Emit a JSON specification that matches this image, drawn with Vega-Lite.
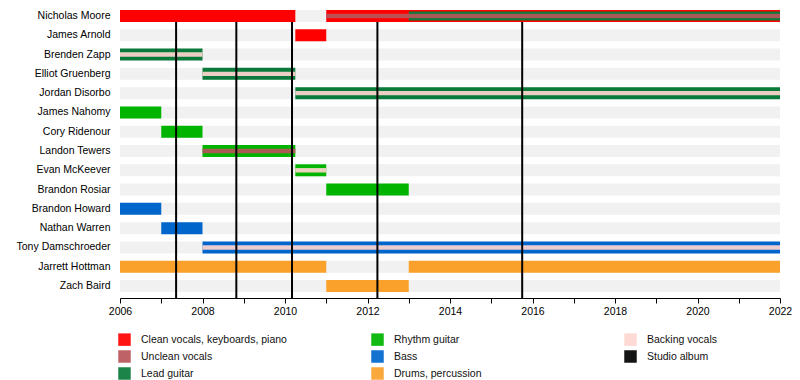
{
  "$schema": "https://vega.github.io/schema/vega-lite/v6.json",
  "width": 660,
  "height": 294,
  "autosize": {"type": "none"},
  "padding": {"left": 120, "top": 4, "right": 20, "bottom": 82},
  "background": "white",
  "config": {
    "view": {"stroke": null},
    "font": "Liberation Sans",
    "axis": {"labelFont": "Liberation Sans", "labelFontSize": 10.5, "labelColor": "#000"},
    "legend": {"labelFont": "Liberation Sans", "labelFontSize": 10.5, "labelColor": "#111"}
  },
  "datasets": {
    "members": [
      {"member": "Nicholas Moore"}, {"member": "James Arnold"}, {"member": "Brenden Zapp"},
      {"member": "Elliot Gruenberg"}, {"member": "Jordan Disorbo"}, {"member": "James Nahomy"},
      {"member": "Cory Ridenour"}, {"member": "Landon Tewers"}, {"member": "Evan McKeever"},
      {"member": "Brandon Rosiar"}, {"member": "Brandon Howard"}, {"member": "Nathan Warren"},
      {"member": "Tony Damschroeder"}, {"member": "Jarrett Hottman"}, {"member": "Zach Baird"}
    ],
    "bars": [
      {"member": "Nicholas Moore", "role": "Clean vocals, keyboards, piano", "part": "main", "start": 2006, "end": 2010.25},
      {"member": "Nicholas Moore", "role": "Clean vocals, keyboards, piano", "part": "main", "start": 2011, "end": 2022},
      {"member": "Nicholas Moore", "role": "Lead guitar", "part": "mid", "start": 2013, "end": 2022},
      {"member": "Nicholas Moore", "role": "Unclean vocals", "part": "stripe", "start": 2011, "end": 2022},
      {"member": "James Arnold", "role": "Clean vocals, keyboards, piano", "part": "main", "start": 2010.25, "end": 2011},
      {"member": "Brenden Zapp", "role": "Lead guitar", "part": "main", "start": 2006, "end": 2008},
      {"member": "Brenden Zapp", "role": "Backing vocals", "part": "stripe", "start": 2006, "end": 2008},
      {"member": "Elliot Gruenberg", "role": "Lead guitar", "part": "main", "start": 2008, "end": 2010.25},
      {"member": "Elliot Gruenberg", "role": "Backing vocals", "part": "stripe", "start": 2008, "end": 2010.25},
      {"member": "Jordan Disorbo", "role": "Lead guitar", "part": "main", "start": 2010.25, "end": 2022},
      {"member": "Jordan Disorbo", "role": "Backing vocals", "part": "stripe", "start": 2010.25, "end": 2022},
      {"member": "James Nahomy", "role": "Rhythm guitar", "part": "main", "start": 2006, "end": 2007},
      {"member": "Cory Ridenour", "role": "Rhythm guitar", "part": "main", "start": 2007, "end": 2008},
      {"member": "Landon Tewers", "role": "Rhythm guitar", "part": "main", "start": 2008, "end": 2010.25},
      {"member": "Landon Tewers", "role": "Unclean vocals", "part": "stripe", "start": 2008, "end": 2010.25},
      {"member": "Evan McKeever", "role": "Rhythm guitar", "part": "main", "start": 2010.25, "end": 2011},
      {"member": "Evan McKeever", "role": "Backing vocals", "part": "stripe", "start": 2010.25, "end": 2011},
      {"member": "Brandon Rosiar", "role": "Rhythm guitar", "part": "main", "start": 2011, "end": 2013},
      {"member": "Brandon Howard", "role": "Bass", "part": "main", "start": 2006, "end": 2007},
      {"member": "Nathan Warren", "role": "Bass", "part": "main", "start": 2007, "end": 2008},
      {"member": "Tony Damschroeder", "role": "Bass", "part": "main", "start": 2008, "end": 2022},
      {"member": "Tony Damschroeder", "role": "Backing vocals", "part": "stripe", "start": 2008, "end": 2022},
      {"member": "Jarrett Hottman", "role": "Drums, percussion", "part": "main", "start": 2006, "end": 2011},
      {"member": "Jarrett Hottman", "role": "Drums, percussion", "part": "main", "start": 2013, "end": 2022},
      {"member": "Zach Baird", "role": "Drums, percussion", "part": "main", "start": 2011, "end": 2013}
    ],
    "albums": [
      {"date": 2007.36, "role": "Studio album"},
      {"date": 2008.82, "role": "Studio album"},
      {"date": 2010.17, "role": "Studio album"},
      {"date": 2012.24, "role": "Studio album"},
      {"date": 2015.75, "role": "Studio album"}
    ]
  },
  "layer": [
    {
      "data": {"name": "members"},
      "mark": {"type": "bar", "color": "#f1f1f1"},
      "encoding": {
        "y": {
          "field": "member", "type": "nominal",
          "scale": {
            "domain": ["Nicholas Moore", "James Arnold", "Brenden Zapp", "Elliot Gruenberg", "Jordan Disorbo", "James Nahomy", "Cory Ridenour", "Landon Tewers", "Evan McKeever", "Brandon Rosiar", "Brandon Howard", "Nathan Warren", "Tony Damschroeder", "Jarrett Hottman", "Zach Baird"],
            "paddingInner": 0.378, "paddingOuter": 0.31
          },
          "axis": {"title": null, "domain": false, "ticks": false, "labelPadding": 10, "labelFontSize": 10.5, "labelColor": "#000"}
        },
        "x": {
          "datum": 2006, "type": "quantitative",
          "scale": {"domain": [2006, 2022], "nice": false, "zero": false},
          "axis": {
            "title": null, "grid": false, "values": [2006, 2007, 2008, 2009, 2010, 2011, 2012, 2013, 2014, 2015, 2016, 2017, 2018, 2019, 2020, 2021, 2022],
            "labelExpr": "datum.value % 2 == 0 ? datum.label : ''", "format": "d",
            "labelFlush": false, "domainColor": "#000", "tickColor": "#000", "tickSize": 5, "labelPadding": 3
          }
        },
        "x2": {"datum": 2022}
      }
    },
    {
      "data": {"name": "bars"},
      "transform": [{"filter": "datum.part == 'main'"}],
      "mark": {"type": "bar"},
      "encoding": {
        "y": {"field": "member", "type": "nominal"},
        "x": {"field": "start", "type": "quantitative"},
        "x2": {"field": "end"},
        "color": {
          "field": "role", "type": "nominal",
          "scale": {
            "domain": ["Clean vocals, keyboards, piano", "Unclean vocals", "Lead guitar", "Rhythm guitar", "Bass", "Drums, percussion", "Backing vocals", "Studio album"],
            "range": ["#ff0000", "#b8555a", "#0a7a3a", "#00b400", "#0066cc", "#f9a12a", "#ffd6d0", "#000000"]
          },
          "legend": {
            "title": null, "orient": "none", "legendX": -2, "legendY": 329, "columns": 3, "gridAlign": "all",
            "columnPadding": 84, "rowPadding": 4, "symbolType": "square", "symbolSize": 156, "labelOffset": 10,
            "labelLimit": 0, "padding": 0, "symbolStrokeWidth": 0, "symbolOpacity": 1
          }
        }
      }
    },
    {
      "data": {"name": "bars"},
      "transform": [{"filter": "datum.part == 'mid'"}],
      "mark": {"type": "bar", "height": {"band": 0.75}},
      "encoding": {
        "y": {"field": "member", "type": "nominal"},
        "x": {"field": "start", "type": "quantitative"},
        "x2": {"field": "end"},
        "color": {"field": "role", "type": "nominal"}
      }
    },
    {
      "data": {"name": "bars"},
      "transform": [{"filter": "datum.part == 'stripe'"}],
      "mark": {"type": "bar", "height": {"band": 0.37}, "opacity": 0.92},
      "encoding": {
        "y": {"field": "member", "type": "nominal"},
        "x": {"field": "start", "type": "quantitative"},
        "x2": {"field": "end"},
        "color": {"field": "role", "type": "nominal"}
      }
    },
    {
      "data": {"name": "albums"},
      "mark": {"type": "rule", "strokeWidth": 2},
      "encoding": {
        "x": {"field": "date", "type": "quantitative"},
        "y": {"datum": "Nicholas Moore", "type": "nominal", "bandPosition": 1},
        "y2": {"value": "height"},
        "color": {"field": "role", "type": "nominal"}
      }
    }
  ]
}
